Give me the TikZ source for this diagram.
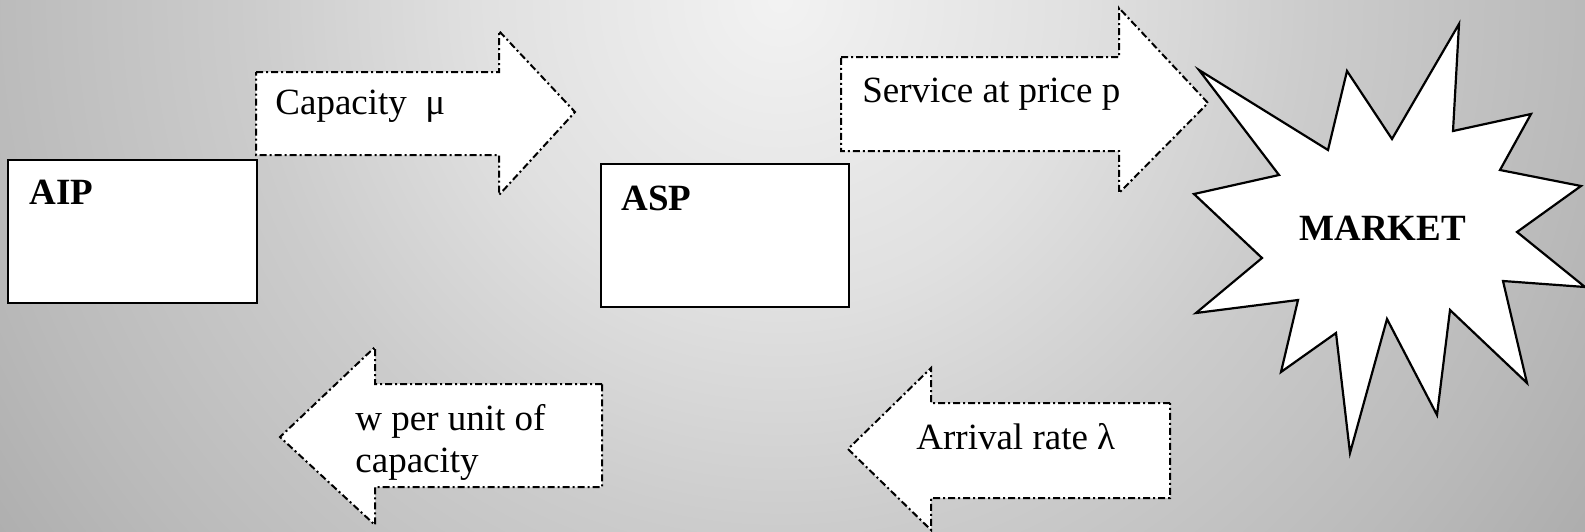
\documentclass[tikz,border=0pt]{standalone}
\usepackage{fontspec}
\setmainfont{Liberation Serif}
% soft slide background, lightest near the top centre
\pgfdeclareradialshading{slidebg}{\pgfpoint{0bp}{0bp}}{%
  rgb(0bp)=(0.95,0.95,0.95);
  rgb(7.5bp)=(0.88,0.88,0.88);
  rgb(13.25bp)=(0.80,0.80,0.80);
  rgb(20bp)=(0.73,0.73,0.73);
  rgb(25bp)=(0.67,0.67,0.67);
  rgb(50bp)=(0.67,0.67,0.67)}
\tikzset{
  agentbox/.style={draw=black, line width=1.35pt, fill=white},
  flowarrow/.style={draw=black, fill=white, line width=1pt,
    dash pattern=on 3.5pt off 1.5pt on 1pt off 1.5pt, line join=miter},
  burst/.style={draw=black, fill=white, line width=1.1pt, line join=miter},
  lbl/.style={inner sep=0pt, font=\fontsize{18.5}{21}\selectfont},
  blbl/.style={inner sep=0pt, font=\fontsize{18.5}{21}\selectfont\bfseries},
}
\begin{document}
\begin{tikzpicture}[x=0.5pt, y=-0.5pt]
\useasboundingbox (0,0) rectangle (1585,531);
\begin{scope}
  \clip (0,0) rectangle (1585,531);
  \shade[shading=slidebg] (780,0) circle (1000);
\end{scope}

% provider boxes
\path[agentbox] (8,160) rectangle (257,303);
\node[blbl, anchor=base west] (aip) at (29,204) {AIP};
\path[agentbox] (601,164) rectangle (849,307);
\node[blbl, anchor=base west] (asp) at (621,210) {ASP};

% block arrows
\path[flowarrow] (256,72) -- (499,72) -- (499,31) -- (575,112) -- (499,195)
  -- (499,155) -- (256,155) -- cycle;
\node[lbl, anchor=base west] (cap) at (275,114) {Capacity\ \ μ};

\path[flowarrow] (841,57) -- (1119,57) -- (1119,8) -- (1208,103) -- (1119,193)
  -- (1119,151) -- (841,151) -- cycle;
\node[lbl, anchor=base west] (svc) at (862,102) {Service at price p};

\path[flowarrow] (602,384) -- (375,384) -- (375,347) -- (280,437) -- (375,525)
  -- (375,487) -- (602,487) -- cycle;
% the base anchor of a two-line node sits on the last line
\node[lbl, anchor=base west, align=left] (pay) at (355,472) {w per unit of\\capacity};

\path[flowarrow] (1170,403) -- (931,403) -- (931,368) -- (848,449) -- (931,530)
  -- (931,498) -- (1170,498) -- cycle;
\node[lbl, anchor=base west] (arr) at (916,449) {Arrival rate λ};

% market burst
\path[burst] (1199,70) -- (1328,150) -- (1347,71) -- (1392,139) -- (1459,24)
  -- (1453,131) -- (1531,114) -- (1500,170) -- (1581,186) -- (1517,232)
  -- (1585,287) -- (1503,281) -- (1527,383) -- (1450,310) -- (1437,415)
  -- (1387,319) -- (1350,453) -- (1336,333) -- (1281,372) -- (1298,300)
  -- (1196,313) -- (1262,258) -- (1194,194) -- (1279,175) -- cycle;
\node[blbl, anchor=base west] (mkt) at (1299,240) {MARKET};
\end{tikzpicture}
\end{document}
